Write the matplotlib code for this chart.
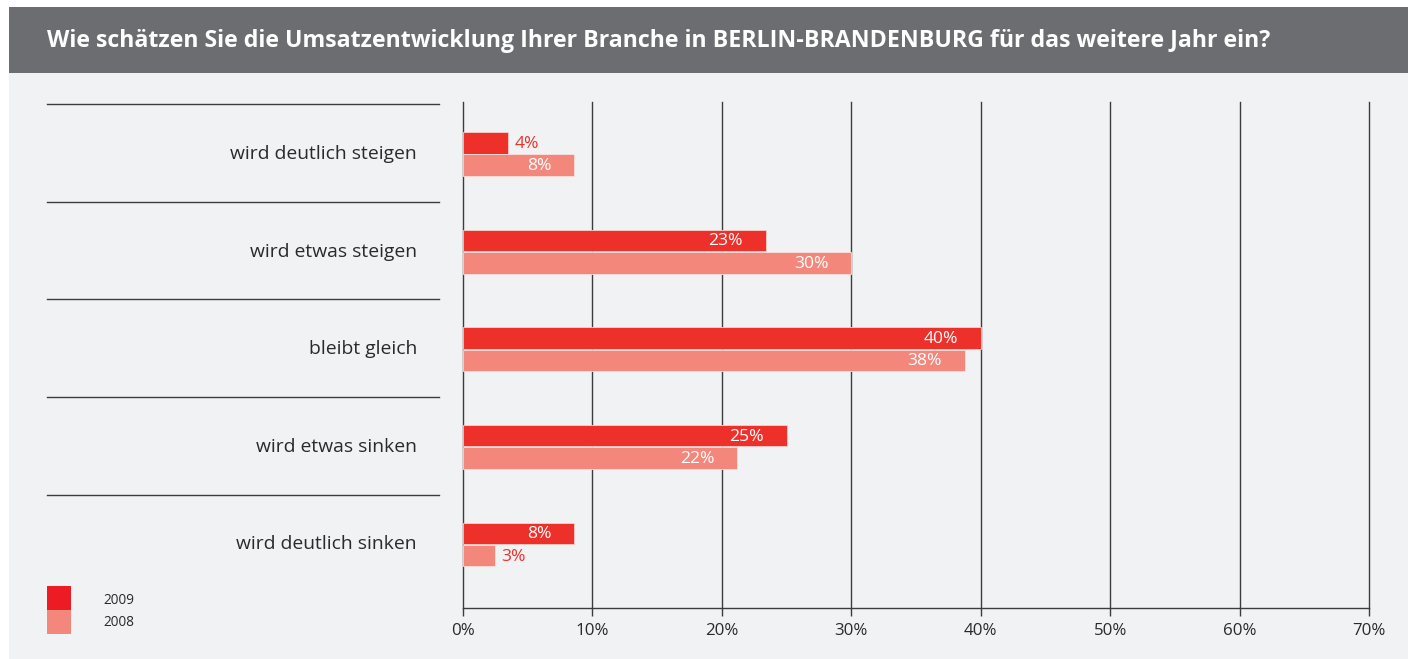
import matplotlib
matplotlib.use("Agg")
import matplotlib.pyplot as plt
import matplotlib.transforms as mtransforms
from matplotlib.patches import Rectangle

plt.rcParams['font.family'] = ['Open Sans', 'DejaVu Sans']

title = "Wie schätzen Sie die Umsatzentwicklung Ihrer Branche in BERLIN-BRANDENBURG für das weitere Jahr ein?"
categories = ["wird deutlich steigen", "wird etwas steigen", "bleibt gleich",
              "wird etwas sinken", "wird deutlich sinken"]
series_names = ["2009", "2008"]
values_2009 = [3.5, 23.4, 40.0, 25.0, 8.6]
values_2008 = [8.6, 30.0, 38.8, 21.2, 2.5]
labels_2009 = ["4%", "23%", "40%", "25%", "8%"]
labels_2008 = ["8%", "30%", "38%", "22%", "3%"]
xticks = [0, 10, 20, 30, 40, 50, 60, 70]
xticklabels = ["0%", "10%", "20%", "30%", "40%", "50%", "60%", "70%"]

C2009 = "#ee302b"
C2008 = "#f4877b"
CLEG09 = "#ed1c24"
BG = "#f1f2f4"
BAR_T = "#6c6d70"
LINE = "#3c3c3e"

W, H = 1413, 659
fig = plt.figure(figsize=(W / 100, H / 100), dpi=100)
fig.patch.set_facecolor("white")

def fx(px):
    return px / W

def fy(py):
    return 1 - py / H

# panels
fig.patches.append(Rectangle((fx(9), fy(659)), fx(1408) - fx(9), fy(73) - fy(659),
                             transform=fig.transFigure, facecolor=BG, edgecolor="none", zorder=-10))
fig.patches.append(Rectangle((fx(9), fy(73)), fx(1408) - fx(9), fy(7) - fy(73),
                             transform=fig.transFigure, facecolor=BAR_T, edgecolor="none", zorder=-10))
fig.text(fx(47), fy(41), title, color="white", fontsize=16.7, fontweight="bold",
         ha="left", va="center")

ax_l, ax_r, ax_t, ax_b = 463, 1369, 102, 608
ax = fig.add_axes([fx(ax_l), fy(ax_b), fx(ax_r) - fx(ax_l), fy(ax_t) - fy(ax_b)])
ax.set_facecolor("none")

n = len(categories)
unit = 97.6
ax.set_xlim(0, 70)
ax.set_ylim(4 + (608 - 544.5) / unit, -(154 - 102) / unit)

bh = 21.5 / unit
off = 11.2 / unit
ys = list(range(n))
ax.barh([y - off for y in ys], values_2009, height=bh, color=C2009,
        edgecolor="#f8d0cc", linewidth=0.6, zorder=3)
ax.barh([y + off for y in ys], values_2008, height=bh, color=C2008,
        edgecolor="#fbe0dc", linewidth=0.6, zorder=3)

# value labels
px_per_unit = (ax_r - ax_l) / 70.0
for vals, labs, sign in [(values_2009, labels_2009, -1), (values_2008, labels_2008, 1)]:
    for y, v, lab in zip(ys, vals, labs):
        yy = y + sign * off + 1.0 / unit
        if v < 5:
            ax.text(v + 6 / px_per_unit, yy, lab, color=C2009, fontsize=12.6,
                    ha="left", va="center", zorder=4)
        else:
            ax.text(v - 23 / px_per_unit, yy, lab, color="white", fontsize=12.6,
                    ha="right", va="center", zorder=4)

# grid
for t in xticks[1:]:
    ax.axvline(t, color=LINE, linewidth=1.0, zorder=1, clip_on=False)
for s in ["top", "right"]:
    ax.spines[s].set_visible(False)
for s in ["left", "bottom"]:
    ax.spines[s].set_color(LINE)
    ax.spines[s].set_linewidth(1.0)
ax.set_yticks([])
ax.set_xticks(xticks)
ax.set_xticklabels(xticklabels, fontsize=12.2, color="#2a2a2a")
ax.tick_params(axis="x", length=6, width=1.0, color=LINE, pad=5)

# separators and category labels
bt = mtransforms.blended_transform_factory(fig.transFigure, ax.transData)
for i, cat in enumerate(categories):
    ax.plot([fx(47), fx(439)], [i - 0.5 - 0.01, i - 0.5 - 0.01], transform=bt,
            color=LINE, linewidth=1.0, clip_on=False)
    ax.text(fx(417), i, cat, transform=bt, ha="right", va="center",
            fontsize=13.9, color="#2a2a2a")

# legend
fig.patches.append(Rectangle((fx(47), fy(610)), fx(71) - fx(47), fy(586) - fy(610),
                             transform=fig.transFigure, facecolor=CLEG09, edgecolor="none"))
fig.patches.append(Rectangle((fx(47), fy(634)), fx(71) - fx(47), fy(610) - fy(634),
                             transform=fig.transFigure, facecolor=C2008, edgecolor="none"))
fig.text(fx(103), fy(600), series_names[0], fontsize=9.8, color="#2a2a2a", ha="left", va="center")
fig.text(fx(103), fy(623), series_names[1], fontsize=9.8, color="#2a2a2a", ha="left", va="center")

fig.savefig("out.png", dpi=100, facecolor=fig.get_facecolor())
